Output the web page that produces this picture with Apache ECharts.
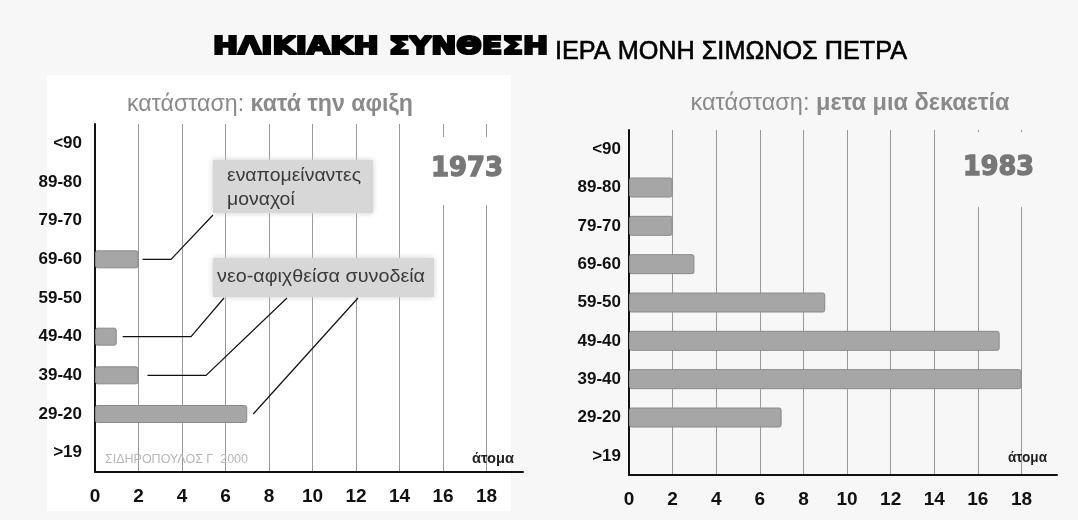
<!DOCTYPE html>
<html>
<head>
<meta charset="utf-8">
<script src="https://cdn.jsdelivr.net/npm/echarts@6/dist/echarts.min.js"></script>
<style>
  html, body { margin: 0; padding: 0; background: #f7f7f7; }
  #chart { width: 1078px; height: 520px; }
</style>
</head>
<body>
<div id="chart"></div>
<script>
// age groups, bottom to top
const ageGroups = [">19", "29-20", "39-40", "49-40", "59-50", "69-60", "79-70", "89-80", "<90"];
// persons per age group
const arrival1973 = [null, 7, 2, 1, null, 2, null, null, null];
const decade1983 = [null, 7, 18, 17, 9, 3, 2, 2, null];
const xTickStep = 2;

const SANS = "'Liberation Sans', Arial, sans-serif";
const HEAVY = "'DejaVu Sans', sans-serif";

// used to squeeze texts to the narrow type of the original
const ctx = document.createElement("canvas").getContext("2d");
const textWidth = (text, font) => {
  ctx.font = font;
  return ctx.measureText(text).width;
};

const chart = echarts.init(document.getElementById("chart"));

const xAxisBase = (max) => ({
  type: "value",
  min: 0,
  max: max,
  interval: xTickStep,
  axisLine: { show: true, lineStyle: { color: "#111", width: 2 } },
  axisTick: { show: false },
  axisLabel: {
    color: "#111",
    fontFamily: SANS,
    fontWeight: "bold",
    fontSize: 19,
    margin: 15,
    showMaxLabel: false,
  },
  splitLine: {
    show: true,
    showMinLine: false,
    showMaxLine: false,
    lineStyle: { color: "#999", width: 1 },
  },
});

const yAxisBase = (margin) => ({
  type: "category",
  data: ageGroups,
  axisLine: { show: true, lineStyle: { color: "#111", width: 2 } },
  axisTick: { show: false },
  axisLabel: {
    color: "#111",
    fontFamily: SANS,
    fontWeight: "bold",
    fontSize: 17,
    margin: margin,
  },
});

const barStyle = {
  color: "#a6a6a6",
  borderColor: "#8a8a8a",
  borderWidth: 1,
  borderRadius: 2,
};

const option = {
  backgroundColor: "#f7f7f7",
  animation: false,
  grid: [
    { left: 95, top: 124, right: 555, bottom: 48 },
    { left: 629, top: 130, right: 21, bottom: 45 },
  ],
  xAxis: [
    Object.assign(xAxisBase(19.68), { gridIndex: 0 }),
    Object.assign(xAxisBase(19.63), { gridIndex: 1 }),
  ],
  yAxis: [
    Object.assign(yAxisBase(13), { gridIndex: 0 }),
    Object.assign(yAxisBase(8), { gridIndex: 1 }),
  ],
  series: [
    {
      type: "bar",
      xAxisIndex: 0,
      yAxisIndex: 0,
      data: arrival1973,
      barWidth: 18,
      itemStyle: barStyle,
      z: 3,
    },
    {
      type: "bar",
      xAxisIndex: 1,
      yAxisIndex: 1,
      data: decade1983,
      barWidth: 20,
      itemStyle: barStyle,
      z: 3,
    },
  ],
};

chart.setOption(option);

// leader lines start just past the ends of the 1973 bars
const barEnd = (idx, dx) => {
  const p = chart.convertToPixel({ gridIndex: 0 }, [arrival1973[idx], ageGroups[idx]]);
  return [p[0] + dx, p[1]];
};
const a6960 = barEnd(5, 4),
  a4940 = barEnd(3, 6),
  a3940 = barEnd(2, 9),
  a2920 = barEnd(1, 6);

const leader = (points) => ({
  type: "polyline",
  shape: { points: points },
  style: { stroke: "#111", lineWidth: 1.2, fill: null },
  z: 10,
});

// text squeezed (or stretched) to a given width
const fitText = (x, y, text, font, color, width, weight) => ({
  type: "text",
  x: x,
  y: y,
  scaleX: width / textWidth(text, font),
  style: Object.assign(
    { text: text, font: font, fill: color, align: "left", verticalAlign: "middle" },
    weight ? { stroke: color, lineWidth: weight } : {}
  ),
  z: 12,
  silent: true,
});

const subtitle = (cx, y, plain, bold, width) => {
  const fr = "23px " + SANS,
    fb = "bold 23px " + SANS;
  const w = textWidth(plain, fr) + textWidth(bold, fb);
  return {
    type: "text",
    x: cx,
    y: y,
    scaleX: width / w,
    style: {
      text: "{r|" + plain + "}{b|" + bold + "}",
      align: "center",
      verticalAlign: "middle",
      rich: {
        r: { font: fr, fill: "#8a8a8a" },
        b: { font: fb, fill: "#8a8a8a" },
      },
    },
    z: 12,
    silent: true,
  };
};

const heavyFont = "bold 24px " + HEAVY;
const titleFont = "26px " + SANS;
const noteFont = "19px " + SANS;
const yearFont = "bold 27px " + HEAVY;

chart.setOption({
  graphic: [
    // white panel behind the left chart
    { type: "rect", shape: { x: 47, y: 75, width: 464, height: 436 }, style: { fill: "#fff" }, z: -10, silent: true },
    // title
    fitText(213, 48, "ΗΛΙΚΙΑΚΗ ΣΥΝΘΕΣΗ", heavyFont, "#000", 335, 2.2),
    fitText(555, 52, "ΙΕΡΑ ΜΟΝΗ ΣΙΜΩΝΟΣ ΠΕΤΡΑ", titleFont, "#000", 352, 0.6),
    // subtitles
    subtitle(270, 105, "κατάσταση: ", "κατά την αφιξη", 286),
    subtitle(850, 104, "κατάσταση: ", "μετα μια δεκαετία", 319),
    // year labels, with gaps in the grid lines behind them
    { type: "rect", shape: { x: 425, y: 137, width: 82, height: 68 }, style: { fill: "#fff" }, z: 5, silent: true },
    { type: "rect", shape: { x: 958, y: 132, width: 82, height: 75 }, style: { fill: "#f7f7f7" }, z: 5, silent: true },
    fitText(431, 169, "1973", yearFont, "#777", 72, 1.4),
    fitText(963, 168, "1983", yearFont, "#777", 71, 1.4),
    // annotation boxes
    {
      type: "rect",
      shape: { x: 213, y: 160, width: 160, height: 53 },
      style: { fill: "#d7d7d7", shadowBlur: 6, shadowColor: "#d0d0d0" },
      z: 8,
      silent: true,
    },
    fitText(227, 176, "εναπομείναντες", noteFont, "#3a3a3a", 134),
    fitText(227, 200, "μοναχοί", noteFont, "#3a3a3a", textWidth("μοναχοί", noteFont) * 134 / textWidth("εναπομείναντες", noteFont)),
    {
      type: "rect",
      shape: { x: 213, y: 258, width: 221, height: 39 },
      style: { fill: "#d7d7d7", shadowBlur: 6, shadowColor: "#d0d0d0" },
      z: 8,
      silent: true,
    },
    fitText(217, 277, "νεο-αφιχθείσα συνοδεία", noteFont, "#3a3a3a", 208),
    // leader lines
    leader([a6960, [171, a6960[1]], [213, 215]]),
    leader([a4940, [191, a4940[1]], [224, 298]]),
    leader([a3940, [206, a3940[1]], [287, 298]]),
    leader([a2920, [358, 298]]),
    // credits and axis names
    fitText(105, 460, "ΣΙΔΗΡΟΠΟΥΛΟΣ Γ  2000", "12px " + SANS, "#b8b8b8", 143),
    fitText(472, 459, "άτομα", "bold 15px " + SANS, "#222", 42),
    fitText(1008, 458, "άτομα", "bold 15px " + SANS, "#222", 39),
  ],
});
</script>
</body>
</html>
